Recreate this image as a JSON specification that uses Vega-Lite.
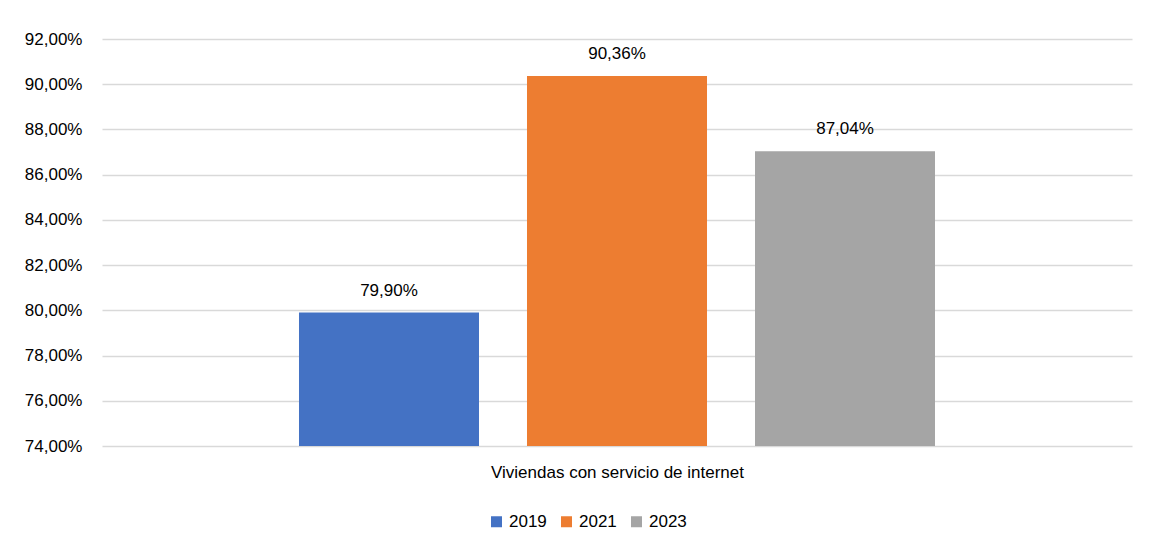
{
  "$schema": "https://vega.github.io/schema/vega-lite/v6.json",
  "width": 1030,
  "height": 407,
  "autosize": {"type": "none"},
  "padding": {"left": 102, "top": 39, "right": 17, "bottom": 106},
  "background": "white",
  "config": {
    "font": "Liberation Sans",
    "view": {"stroke": null},
    "locale": {"number": {"decimal": ",", "thousands": ".", "grouping": [3], "currency": ["", " €"]}}
  },
  "data": {
    "values": [
      {"year": "2019", "value": 0.799},
      {"year": "2021", "value": 0.9036},
      {"year": "2023", "value": 0.8704}
    ]
  },
  "encoding": {
    "x": {
      "field": "year",
      "type": "nominal",
      "scale": {"paddingInner": 0.2105, "paddingOuter": 0.864},
      "axis": {
        "labels": false,
        "ticks": false,
        "domain": false,
        "title": "Viviendas con servicio de internet",
        "titleFont": "Liberation Sans",
        "titleFontSize": 17,
        "titleFontWeight": "normal",
        "titleColor": "#000000",
        "titlePadding": 18
      }
    }
  },
  "layer": [
    {
      "mark": {"type": "bar"},
      "encoding": {
        "y": {
          "field": "value",
          "type": "quantitative",
          "scale": {"domain": [0.74, 0.92], "zero": false, "nice": false},
          "axis": {
            "values": [0.74, 0.76, 0.78, 0.8, 0.82, 0.84, 0.86, 0.88, 0.9, 0.92],
            "format": ".2%",
            "title": null,
            "domain": false,
            "ticks": false,
            "labelPadding": 20,
            "labelFont": "Liberation Sans",
            "labelFontSize": 17,
            "labelColor": "#000000",
            "gridColor": "#D9D9D9",
            "gridWidth": 1.5
          }
        },
        "y2": {"datum": 0.74},
        "color": {
          "field": "year",
          "type": "nominal",
          "scale": {"domain": ["2019", "2021", "2023"], "range": ["#4472C4", "#ED7D31", "#A5A5A5"]},
          "legend": {
            "title": null,
            "orient": "none",
            "direction": "horizontal",
            "legendX": 386,
            "legendY": 474,
            "symbolType": "square",
            "symbolSize": 121,
            "symbolStrokeWidth": 0,
            "labelFont": "Liberation Sans",
            "labelFontSize": 17,
            "labelColor": "#000000",
            "labelOffset": 4,
            "columnPadding": 11
          }
        }
      }
    },
    {
      "mark": {"type": "text", "baseline": "alphabetic", "dy": -17, "font": "Liberation Sans", "fontSize": 17, "color": "#000000"},
      "encoding": {
        "y": {"field": "value", "type": "quantitative"},
        "text": {"field": "value", "type": "quantitative", "format": ".2%"}
      }
    }
  ]
}
